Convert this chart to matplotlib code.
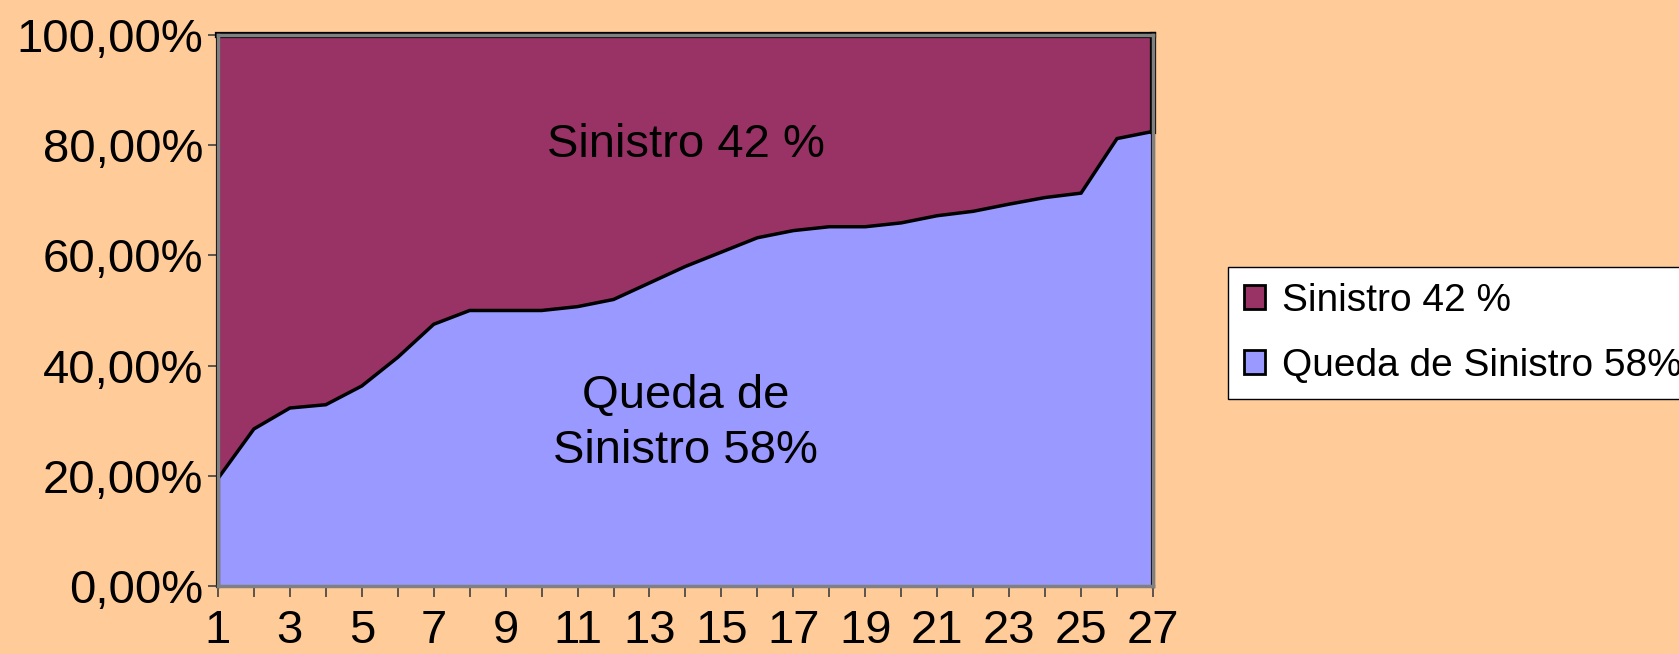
import matplotlib.pyplot as plt

# valores
periodos = list(range(1, 28))
queda = [19.5, 28.5, 32.3, 32.9, 36.3, 41.5, 47.5, 50.0, 50.0, 50.0, 50.7, 52.0,
         55.0, 58.0, 60.6, 63.2, 64.5, 65.2, 65.2, 65.9, 67.2, 68.0, 69.3, 70.5,
         71.3, 81.2, 82.5]
sinistro = [100 - q for q in queda]
yticks = [0, 20, 40, 60, 80, 100]
xlabels = [str(p) if p % 2 == 1 else '' for p in periodos]

cor_sin = '#993366'
cor_queda = '#9999FF'
fundo = '#FFCC99'

plt.rcParams['font.family'] = ['Liberation Sans', 'DejaVu Sans']

fig = plt.figure(figsize=(16.79, 6.54), dpi=100, facecolor=fundo)
ax = fig.add_axes([0.1298, 0.104, 0.5569, 0.8425])
ax.set_facecolor(fundo)

topo = [q + s for q, s in zip(queda, sinistro)]
ax.fill_between(periodos, 0, queda, color=cor_queda, lw=0, label='Queda de Sinistro 58%')
ax.fill_between(periodos, queda, topo, color=cor_sin, lw=0, label='Sinistro 42 %')
ax.plot(periodos, queda, color='black', lw=2.5, solid_joinstyle='miter')
ax.plot(periodos, topo, color='black', lw=4.5, clip_on=False)
ax.plot([periodos[-1]] * 2, [queda[-1], 100], color='black', lw=4.5, clip_on=False)
ax.plot([periodos[-1]] * 2, [0, queda[-1]], color='black', lw=3, clip_on=False)
ax.plot([periodos[0]] * 2, [0, 100], color='black', lw=3, clip_on=False)

ax.set_xlim(1, 27)
ax.set_ylim(0, 100)
for s in ax.spines.values():
    s.set_color('#808080')
    s.set_linewidth(2.5)

ax.set_yticks(yticks)
ax.set_yticklabels([f'{v:.2f}'.replace('.', ',') + '%' for v in yticks])
ax.set_xticks(periodos)
ax.set_xticklabels(xlabels)
ax.tick_params(axis='y', length=7, width=1.2, color='#404040', labelsize=34, pad=3.5)
ax.tick_params(axis='x', length=8, width=1.2, color='#404040', labelsize=34, pad=8.5)

ax.text(14, 80, 'Sinistro 42 %', fontsize=34, ha='center', va='center')
ax.text(14, 29.5, 'Queda de\nSinistro 58%', fontsize=34, ha='center', va='center',
        linespacing=1.35)

h, l = ax.get_legend_handles_labels()
leg = fig.legend(h[::-1], l[::-1], loc='upper left', bbox_to_anchor=(1228 / 1679, 1 - 267 / 654),
                 fontsize=28, frameon=True, fancybox=False, edgecolor='black',
                 facecolor='white', framealpha=1, handlelength=0.55, handleheight=0.55,
                 handletextpad=0.45, labelspacing=0.75, borderpad=0.4, borderaxespad=0)
leg.get_frame().set_linewidth(1)
for p in leg.get_patches():
    p.set_edgecolor('black')
    p.set_linewidth(2)

fig.savefig('out.png', dpi=100, facecolor=fundo)
